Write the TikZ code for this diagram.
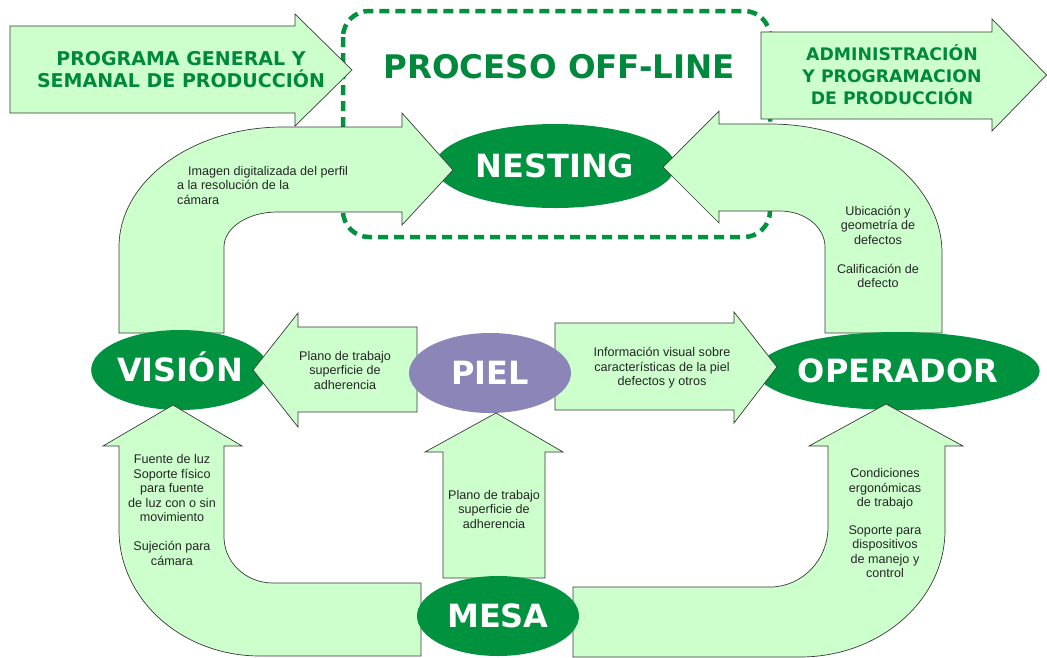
\documentclass[tikz,border=0pt]{standalone}
\usepackage{fontspec}
\setmainfont{Liberation Sans}
\newfontfamily\hfont{DejaVu Sans}
\usetikzlibrary{shapes.geometric}
\definecolor{lg}{HTML}{CCFFCC}
\definecolor{dg}{HTML}{00923F}
\definecolor{tg}{HTML}{00883D}
\definecolor{pu}{HTML}{8B86B7}
\definecolor{ol}{HTML}{3A3A3A}
\begin{document}
\begin{tikzpicture}[x=1pt,y=-1pt,
  blockarrow/.style={fill=lg, draw=ol, line width=0.7pt, line join=miter},
  ell/.style={ellipse, fill=dg, text=white, inner sep=0pt,
    font=\hfont\bfseries\fontsize{32}{32}\selectfont, text height=23.3pt, text depth=0pt},
  small/.style={font=\fontsize{12.6}{14.5}\selectfont, text=black!85, align=center, inner sep=0pt},
  head/.style={font=\hfont\bfseries\fontsize{19}{22}\selectfont, text=tg, align=center, inner sep=0pt},
  offline/.style={draw=dg, line width=4.5pt, dash pattern=on 10pt off 6pt, rounded corners=26pt}]
\useasboundingbox (0,0) rectangle (1047,657);

% dashed off-line frame
\draw[offline] (343,11) rectangle (770,237);
\node[font=\hfont\bfseries\fontsize{32.5}{32.5}\selectfont, text=tg, inner sep=0pt,
  text height=23.7pt, text depth=0pt] (title) at (559,67) {PROCESO OFF-LINE};

% top straight arrows
\draw[blockarrow] (10,26) -- (295,26) -- (295,14) -- (352,70) -- (295,126) -- (295,113) -- (10,113) -- cycle;
\node[head] (prog) at (181,70) {PROGRAMA GENERAL Y\\SEMANAL DE PRODUCCIÓN};
\draw[blockarrow] (761,32) -- (992,32) -- (992,19) -- (1046.5,75) -- (992,131) -- (992,119) -- (761,119) -- cycle;
\node[head, font=\hfont\bfseries\fontsize{17.3}{22}\selectfont] (admin) at (892,75) {ADMINISTRACIÓN\\Y PROGRAMACION\\DE PRODUCCIÓN};

% NESTING
\node[ell, minimum width=240pt, minimum height=84pt] (nesting) at (555,166) {NESTING};

% curved arrow VISION -> NESTING
\draw[blockarrow] (119,333) -- (119,247) .. controls (119,180.7) and (192.4,127) .. (283,127)
  -- (402,127) -- (402,113) -- (453,170) -- (402,225) -- (402,212) -- (277,212)
  .. controls (247.7,212) and (224,227.7) .. (224,247) -- (224,333) -- cycle;
\node[small, align=left, anchor=west] (t1) at (177,185) {\hspace*{11pt}Imagen digitalizada del perfil\\a la resolución de la\\cámara};

% curved arrow OPERADOR -> NESTING
\draw[blockarrow] (942,333) -- (942,253) .. controls (942,181.8) and (865,124) .. (770,124)
  -- (719,124) -- (719,111) -- (663,167) -- (719,223) -- (719,211) -- (780,211)
  .. controls (804.9,211) and (825,227.1) .. (825,247) -- (825,333) -- cycle;
\node[small] (t2) at (878,247) {Ubicación y\\geometría de\\defectos\\[14.5pt]Calificación de\\defecto};

% VISION and OPERADOR
\node[ell, minimum width=162pt, minimum height=80pt] (vision) at (180,370) {VISIÓN};
\node[ell, minimum width=277pt, minimum height=78pt] (operador) at (898,371) {OPERADOR};

% PIEL -> VISION
\draw[blockarrow] (417,327) -- (298,327) -- (298,313) -- (253,370) -- (298,427) -- (298,412) -- (417,412) -- cycle;
\node[small] (t3) at (345,370) {Plano de trabajo\\superficie de\\adherencia};

% PIEL -> OPERADOR
\draw[blockarrow] (555,323) -- (734,323) -- (734,312) -- (777,367) -- (734,423) -- (734,410) -- (555,410) -- cycle;
\node[small] (t4) at (662,368) {Información visual sobre\\características de la piel\\defectos y otros};

% MESA -> VISION
\draw[blockarrow] (421,656) -- (260,656) .. controls (182.1,656) and (119,599.6) .. (119,530)
  -- (119,446) -- (103,446) -- (173,405) -- (242,446) -- (224,446) -- (224,537)
  .. controls (224,562.4) and (245.9,583) .. (273,583) -- (421,583) -- cycle;
\node[small] (t5) at (172,510) {Fuente de luz\\Soporte físico\\para fuente\\de luz con o sin\\movimiento\\[14.5pt]Sujeción para\\cámara};

% MESA -> OPERADOR
\draw[blockarrow] (573,587) -- (770,587) .. controls (802,587) and (828,560.1) .. (828,527)
  -- (828,446) -- (809,446) -- (886,404) -- (963,446) -- (945,446) -- (945,530)
  .. controls (945,600.1) and (880.1,657) .. (800,657) -- (573,657) -- cycle;
\node[small] (t6) at (885,523) {Condiciones\\ergonómicas\\de trabajo\\[13pt]Soporte para\\dispositivos\\de manejo y\\control};

% PIEL
\node[ell, fill=pu, minimum width=162pt, minimum height=80pt] (piel) at (490,373) {PIEL};

% MESA -> PIEL
\draw[blockarrow] (443,578) -- (443,452) -- (425,452) -- (496,413) -- (563,452) -- (545,452) -- (545,578) -- cycle;
\node[small] (t7) at (494,509) {Plano de trabajo\\superficie de\\adherencia};

% MESA
\node[ell, minimum width=162pt, minimum height=80pt] (mesa) at (498,616) {MESA};
\end{tikzpicture}
\end{document}
